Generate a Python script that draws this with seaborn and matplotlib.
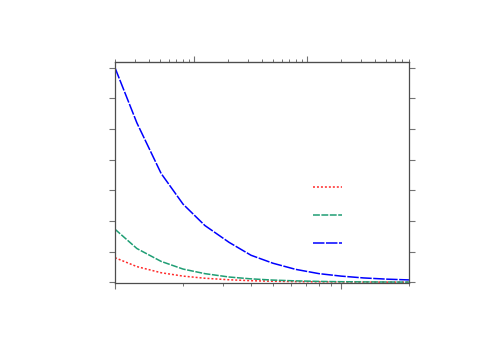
import numpy as np
import pandas as pd
import seaborn as sns
import matplotlib
matplotlib.use("Agg")
import matplotlib.pyplot as plt

# values (log x axis, 1..20)
x = [1, 1.25, 1.6, 2, 2.5, 3.2, 4, 5, 6.3, 8, 10, 12.6, 16, 20]
red = [0.80, 0.51, 0.31, 0.20, 0.13, 0.08, 0.05, 0.032, 0.02, 0.013, 0.008, 0.005, 0.003, 0.002]
green = [1.73, 1.10, 0.68, 0.43, 0.28, 0.17, 0.11, 0.07, 0.044, 0.027, 0.017, 0.011, 0.007, 0.004]
blue = [7.0, 5.2, 3.55, 2.55, 1.85, 1.3, 0.88, 0.62, 0.42, 0.28, 0.20, 0.14, 0.10, 0.075]

df = pd.DataFrame({"x": x, "red": red, "green": green, "blue": blue})

sns.set_style("white")
fig = plt.figure(figsize=(5, 3.5), dpi=100)
ax = fig.add_axes([0.23, 0.191, 0.588, 0.632])

styles = [
    ("red", "#ff2a2a", (1.3, 1.3)),
    ("green", "#1f9e74", (4.5, 1.0)),
    ("blue", "#0000ff", (7.5, 1.0)),
]
handles = []
for col, c, dash in styles:
    sns.lineplot(data=df, x="x", y=col, ax=ax, color=c, linewidth=1.1)
    line = ax.lines[-1]
    line.set_dashes(dash)
    handles.append(line)

ax.set_xscale("log")
ax.set_xlim(1, 20)
ax.set_ylim(-0.03, 7.19)
ax.set_yticks(range(0, 8))
ax.set_xlabel("")
ax.set_ylabel("")

for s in ax.spines.values():
    s.set_color("0.3")
    s.set_linewidth(0.9)

ax.tick_params(which="both", direction="out", color="0.45", labelbottom=False,
               labelleft=False, bottom=True, left=True, right=True, top=False)
ax.tick_params(which="major", length=4, width=0.8)
ax.tick_params(which="minor", length=2.5, width=0.7)

sec = ax.secondary_xaxis("top", functions=(lambda v: 2 * v ** 2, lambda t: np.sqrt(np.maximum(t, 0) / 2)))
sec.tick_params(which="both", direction="out", color="0.45", labeltop=False, top=True)
sec.tick_params(which="major", length=4, width=0.8)
sec.tick_params(which="minor", length=2.5, width=0.7)
sec.spines["top"].set_color("0.3")

leg = ax.legend(handles, [" ", " ", " "], loc="center left", bbox_to_anchor=(0.635, 0.305),
                frameon=False, handlelength=2.3, labelspacing=1.22, fontsize=9)

fig.savefig("out.png", dpi=100)
